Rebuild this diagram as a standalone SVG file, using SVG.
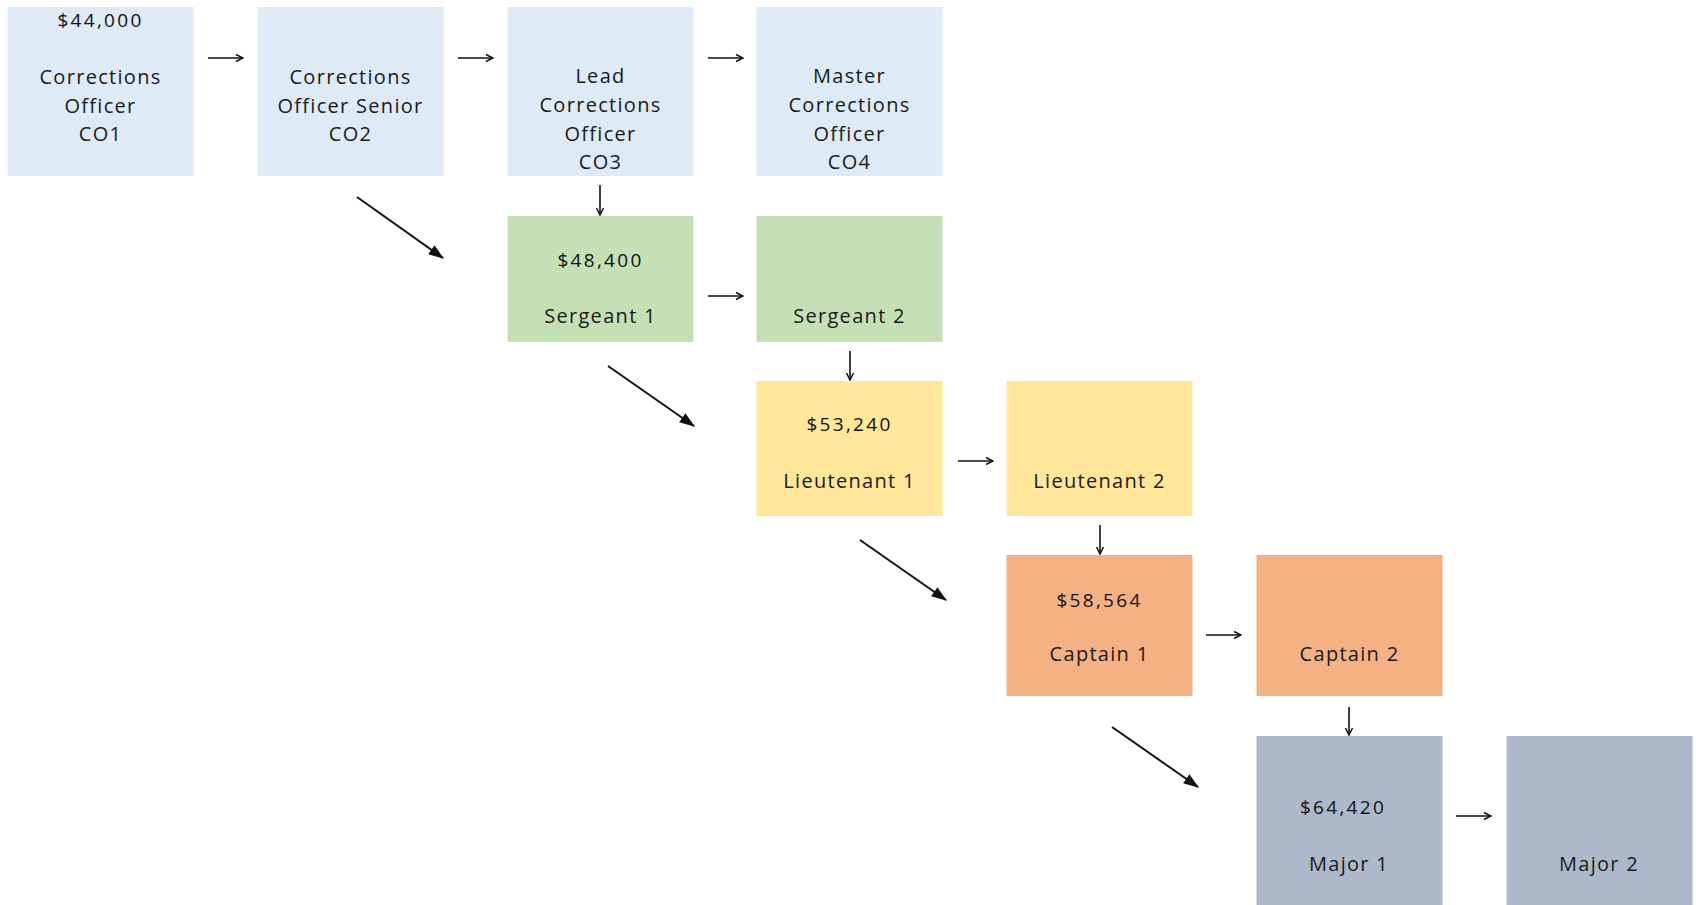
<svg xmlns="http://www.w3.org/2000/svg" width="1696" height="905" viewBox="0 0 1696 905">
<defs>
<style>
.t{font-family:"Open Sans","Liberation Sans",sans-serif;font-size:20px;fill:#1a1a1a;text-anchor:middle;letter-spacing:1.3px}
.s{font-family:"Open Sans","Liberation Sans",sans-serif;font-size:19px;fill:#111;text-anchor:middle;letter-spacing:2.3px}
.co{fill:#DEEAF6}.sg{fill:#C5E0B4}.lt{fill:#FFE699}.cp{fill:#F4B183}.mj{fill:#ADB9CA}
.sm{stroke:#111;stroke-width:1.6;fill:none;marker-end:url(#open)}
.dg{stroke:#111;stroke-width:2;fill:none;marker-end:url(#solid)}
</style>
<marker id="open" viewBox="0 0 10 10" refX="9" refY="5" markerWidth="10" markerHeight="10" markerUnits="userSpaceOnUse" orient="auto">
<path d="M2,1.5 L9,5 L2,8.5" fill="none" stroke="#111" stroke-width="1.5"/>
</marker>
<marker id="solid" viewBox="0 0 14 10" refX="13" refY="5" markerWidth="16" markerHeight="11" markerUnits="userSpaceOnUse" orient="auto">
<path d="M0,0 L14,5 L0,10 Z" fill="#111"/>
</marker>
</defs>
<rect width="1696" height="905" fill="#fff"/>
<g id="connectors">
<line class="sm" x1="208" y1="58" x2="243" y2="58"/>
<line class="sm" x1="458" y1="58" x2="493" y2="58"/>
<line class="sm" x1="708" y1="58" x2="743" y2="58"/>
<line class="sm" x1="708" y1="296" x2="743" y2="296"/>
<line class="sm" x1="958" y1="461" x2="993" y2="461"/>
<line class="sm" x1="1206" y1="635" x2="1241" y2="635"/>
<line class="sm" x1="1456" y1="816" x2="1491" y2="816"/>
<line class="sm" x1="600" y1="185" x2="600" y2="215"/>
<line class="sm" x1="850" y1="351" x2="850" y2="380"/>
<line class="sm" x1="1100" y1="525" x2="1100" y2="554"/>
<line class="sm" x1="1349" y1="707" x2="1349" y2="735"/>
<line class="dg" x1="357" y1="197" x2="443" y2="258"/>
<line class="dg" x1="608" y1="366" x2="694" y2="426"/>
<line class="dg" x1="860" y1="540" x2="946" y2="600"/>
<line class="dg" x1="1112" y1="727" x2="1198" y2="787"/>
</g>
<g id="co1"><rect class="co" x="7.5" y="7" width="186" height="169"/>
<text class="s" x="100.5" y="27">$44,000</text>
<text class="t" x="100.5" y="84">Corrections</text>
<text class="t" x="100.5" y="113">Officer</text>
<text class="t" x="100.5" y="141">CO1</text></g>
<g id="co2"><rect class="co" x="257.5" y="7" width="186" height="169"/>
<text class="t" x="350.5" y="84">Corrections</text>
<text class="t" x="350.5" y="113">Officer Senior</text>
<text class="t" x="350.5" y="141">CO2</text></g>
<g id="co3"><rect class="co" x="507.5" y="7" width="186" height="169"/>
<text class="t" x="600.5" y="83">Lead</text>
<text class="t" x="600.5" y="112">Corrections</text>
<text class="t" x="600.5" y="141">Officer</text>
<text class="t" x="600.5" y="169">CO3</text></g>
<g id="co4"><rect class="co" x="756.5" y="7" width="186" height="169"/>
<text class="t" x="849.5" y="83">Master</text>
<text class="t" x="849.5" y="112">Corrections</text>
<text class="t" x="849.5" y="141">Officer</text>
<text class="t" x="849.5" y="169">CO4</text></g>
<g id="sgt1"><rect class="sg" x="507.5" y="216" width="186" height="126"/>
<text class="s" x="600.5" y="267">$48,400</text>
<text class="t" x="600.5" y="323">Sergeant 1</text></g>
<g id="sgt2"><rect class="sg" x="756.5" y="216" width="186" height="126"/>
<text class="t" x="849.5" y="323">Sergeant 2</text></g>
<g id="lt1"><rect class="lt" x="756.5" y="381" width="186" height="135"/>
<text class="s" x="849.5" y="431">$53,240</text>
<text class="t" x="849.5" y="488">Lieutenant 1</text></g>
<g id="lt2"><rect class="lt" x="1006.5" y="381" width="186" height="135"/>
<text class="t" x="1099.5" y="488">Lieutenant 2</text></g>
<g id="cpt1"><rect class="cp" x="1006.5" y="555" width="186" height="141"/>
<text class="s" x="1099.5" y="607">$58,564</text>
<text class="t" x="1099.5" y="661">Captain 1</text></g>
<g id="cpt2"><rect class="cp" x="1256.5" y="555" width="186" height="141"/>
<text class="t" x="1349.5" y="661">Captain 2</text></g>
<g id="maj1"><rect class="mj" x="1256.5" y="736" width="186" height="169"/>
<text class="s" x="1343" y="814">$64,420</text>
<text class="t" x="1349" y="871">Major 1</text></g>
<g id="maj2"><rect class="mj" x="1506.5" y="736" width="186" height="169"/>
<text class="t" x="1599" y="871">Major 2</text></g>
</svg>
